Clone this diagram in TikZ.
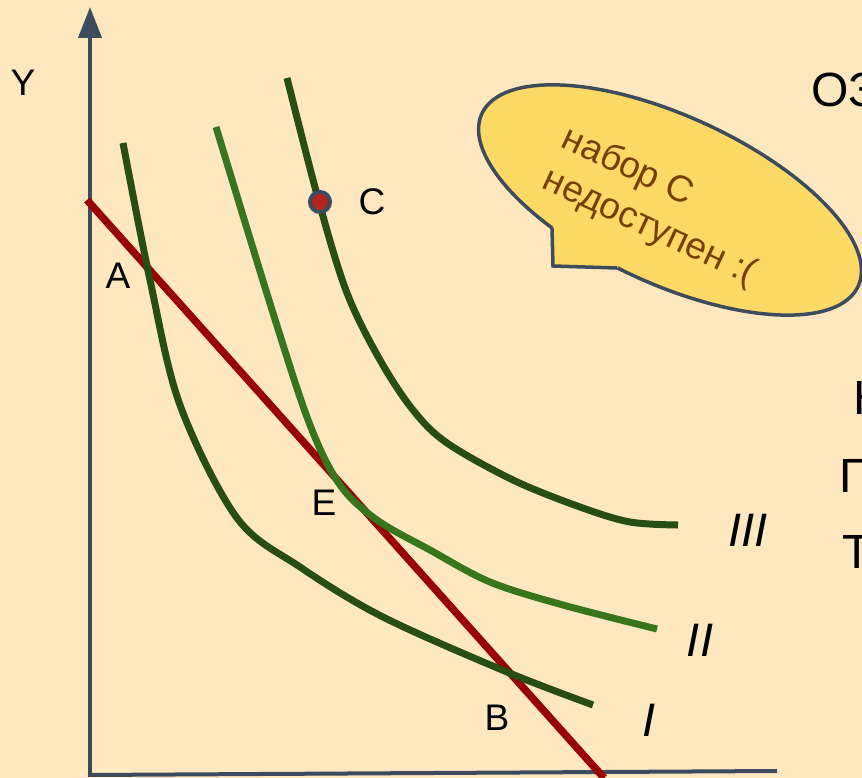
\documentclass[tikz,border=0pt]{standalone}
\usepackage{fontspec}
\setmainfont{Liberation Sans}
\usetikzlibrary{arrows.meta}
\definecolor{bg}{HTML}{FFE8BF}
\definecolor{axiscol}{HTML}{3D4B5E}
\definecolor{dkgreen}{HTML}{274E13}
\definecolor{mdgreen}{HTML}{38761D}
\definecolor{budget}{HTML}{990000}
\definecolor{bubfill}{HTML}{FFD966}
\definecolor{bubline}{HTML}{3D4B5E}
\definecolor{bubtext}{HTML}{783F04}
\definecolor{ptfill}{HTML}{B3261E}
\tikzset{
  axisline/.style={draw=axiscol, line width=4pt},
  curvedk/.style={draw=dkgreen, line width=7pt},
  curvemd/.style={draw=mdgreen, line width=7pt},
  budgetline/.style={draw=budget, line width=7.5pt},
  lbl/.style={inner sep=0pt, font=\fontsize{37}{44}\selectfont},
  rom/.style={inner sep=0pt, font=\fontsize{47}{56}\selectfont\itshape},
  bigtxt/.style={inner sep=0pt, anchor=base west, font=\fontsize{48}{58}\selectfont},
  bubtxt/.style={inner sep=0pt, text=bubtext, align=left, font=\fontsize{37}{45}\selectfont},
  ptC/.style={circle, fill=ptfill, draw=axiscol, line width=4pt, minimum size=20pt, inner sep=0pt}
}
\begin{document}
\begin{tikzpicture}[x=1pt,y=-1pt]
\useasboundingbox (0,0) rectangle (862,778);
\fill[bg] (0,0) rectangle (862,778);
\clip (0,0) rectangle (862,778);

% axes
\coordinate (O) at (90,776);
\coordinate (Ytop) at (90,7);
\coordinate (Xend) at (777,771);
\draw[axisline, -{Triangle[length=31pt,width=23pt]}] (O) -- (Ytop);
\draw[axisline] (88,775) -- (Xend);

% budget line
\coordinate (b1) at (87,200);
\coordinate (b2) at (604,778);
\draw[budgetline] (b1) -- (b2);

% indifference curves
\draw[curvedk] plot[smooth, tension=0.55] coordinates {
 (123,143) (150,280) (180,405) (237,518) (300,567) (383,617) (507,672) (593,705)};
\draw[curvemd] plot[smooth, tension=0.55] coordinates {
 (216,127) (273,313) (310,425) (340,485) (377,520) (430,550) (490,582) (563,605) (657,629)};
\draw[curvedk] plot[smooth, tension=0.55] coordinates {
 (287,78) (319,202) (347,293) (380,360) (413,410) (447,443) (513,480)
 (580,507) (630,522) (678,525)};

% point C
\node[ptC] (C) at (320,202) {};

% labels
\node[lbl] (Ylbl) at (23,83) {Y};
\node[lbl] (Albl) at (118,276) {A};
\node[lbl] (Clbl) at (372,202) {C};
\node[lbl] (Elbl) at (324,503) {E};
\node[lbl] (Blbl) at (497,718) {B};
\node[rom] (III) at (748,530) {III};
\node[rom] (II) at (700,640) {II};
\node[rom] (I) at (649,720) {I};

% speech bubble
\coordinate (bc) at (670,200);
\coordinate (t1) at (552,228);
\coordinate (t2) at (553,266);
\coordinate (t3) at (617,268);
\draw[fill=bubfill, draw=bubline, line width=3.5pt, rotate around={-24.6:(bc)}]
  (bc) ellipse [x radius=207, y radius=84];
\fill[bubfill] (t1) -- (t2) -- (t3) -- (640,240) -- (580,215) -- cycle;
\draw[bubline, line width=3.5pt, line join=miter] (t1) -- (t2) -- (t3);
\node[bubtxt, rotate=-25] (btxt) at (659,207) {набор С\\недоступен :(};

% cut-off text at right edge
\node[bigtxt] (t1txt) at (811,107) {ОЗ};
\node[bigtxt] (t2txt) at (853,414) {Н};
\node[bigtxt] (t3txt) at (839,492) {Г};
\node[bigtxt] (t4txt) at (842,568) {Т};
\end{tikzpicture}
\end{document}
